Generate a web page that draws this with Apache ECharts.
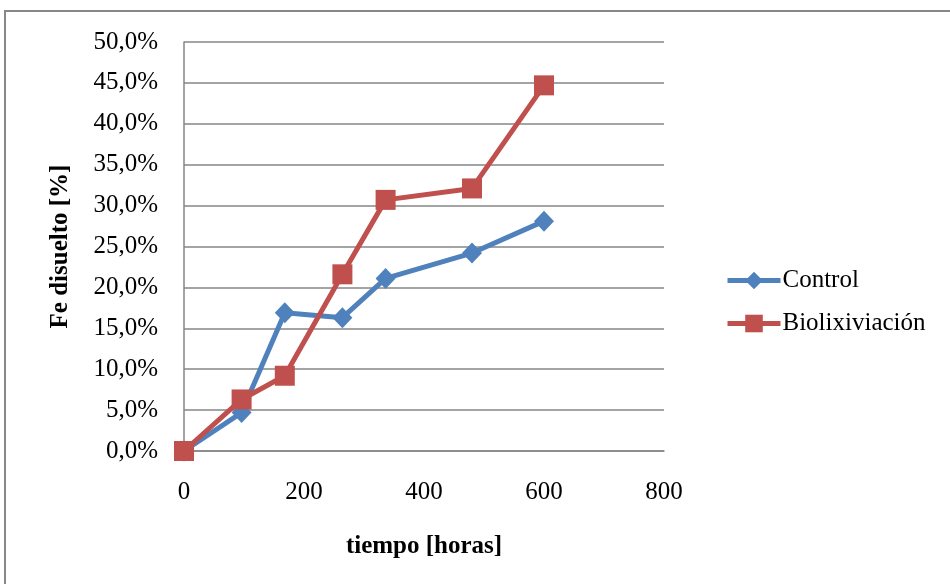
<!DOCTYPE html>
<html>
<head>
<meta charset="utf-8">
<script src="https://cdn.jsdelivr.net/npm/echarts@6/dist/echarts.min.js"></script>
<style>
  html, body { margin: 0; padding: 0; background: #fff; }
  #chart { width: 950px; height: 584px; }
</style>
</head>
<body>
<div id="chart"></div>
<script>
// Dissolved iron over time for the control and the bioleaching test
const horas = [0, 96, 168, 264, 336, 480, 600];
const control = [0.000, 0.047, 0.169, 0.163, 0.211, 0.242, 0.281];
const biolixiviacion = [0.000, 0.063, 0.092, 0.216, 0.307, 0.321, 0.447];
const seriesNames = ['Control', 'Biolixiviación'];

const FONT = '"Liberation Serif", "Times New Roman", serif';
const GRID_GRAY = '#868686';

const pairs = (xs, ys) => xs.map((x, i) => [x, ys[i]]);

const chart = echarts.init(document.getElementById('chart'), null, { renderer: 'canvas' });

chart.setOption({
  backgroundColor: '#ffffff',
  animation: false,
  textStyle: { fontFamily: FONT, color: '#000' },
  graphic: [{
    type: 'rect',
    shape: { x: 5, y: 11, width: 1000, height: 700 },
    style: { fill: 'none', stroke: '#878787', lineWidth: 2 },
    silent: true
  }],
  grid: { left: 184, right: 286, top: 42, bottom: 133 },
  legend: {
    orient: 'vertical',
    left: 725,
    top: 268,
    padding: 0,
    itemWidth: 53,
    itemHeight: 22,
    itemGap: 18,
    lineStyle: { width: 5 },
    textStyle: { fontFamily: FONT, fontSize: 25, color: '#000', padding: [0, 0, 0, -3] },
    data: seriesNames
  },
  xAxis: {
    type: 'value',
    min: 0,
    max: 800,
    interval: 200,
    name: 'tiempo [horas]',
    nameLocation: 'middle',
    nameGap: 83,
    nameTextStyle: { fontFamily: FONT, fontSize: 25, fontWeight: 'bold', color: '#000' },
    axisLine: { show: true, lineStyle: { color: GRID_GRAY, width: 1.5 } },
    axisTick: { show: false },
    splitLine: { show: false },
    axisLabel: { fontFamily: FONT, fontSize: 25, color: '#000', margin: 29 }
  },
  yAxis: {
    type: 'value',
    min: 0,
    max: 0.5,
    interval: 0.05,
    name: 'Fe disuelto [%]',
    nameLocation: 'middle',
    nameGap: 111,
    nameTextStyle: { fontFamily: FONT, fontSize: 25, fontWeight: 'bold', color: '#000' },
    axisLine: { show: true, lineStyle: { color: GRID_GRAY, width: 1.5 } },
    axisTick: { show: false },
    splitLine: { show: true, lineStyle: { color: GRID_GRAY, width: 1.5 } },
    axisLabel: {
      fontFamily: FONT, fontSize: 25, color: '#000', margin: 26,
      formatter: v => (v * 100).toFixed(1).replace('.', ',') + '%'
    }
  },
  series: [
    {
      name: seriesNames[0],
      type: 'line',
      data: pairs(horas, control),
      symbol: 'diamond',
      symbolSize: [20, 21],
      lineStyle: { color: '#4F81BD', width: 5 },
      itemStyle: { color: '#4F81BD' },
      z: 2
    },
    {
      name: seriesNames[1],
      type: 'line',
      data: pairs(horas, biolixiviacion),
      symbol: 'rect',
      symbolSize: 20,
      lineStyle: { color: '#C0504D', width: 5 },
      itemStyle: { color: '#C0504D' },
      z: 3
    }
  ]
});
</script>
</body>
</html>
